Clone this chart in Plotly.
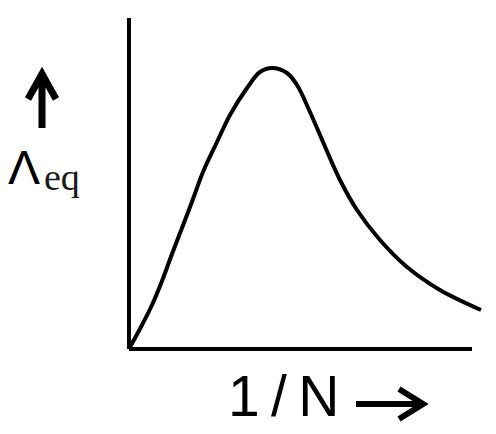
import plotly.graph_objects as go

# Curve (x = 1/N, y = equivalent conductance), arbitrary units
inv_n = [0, 13, 23, 33, 43, 53, 64, 74, 88, 101, 118, 131, 143, 158, 168, 181, 194, 211, 228, 251, 278, 311, 352]
lambda_eq = [0, 24, 44, 68, 95, 121, 150, 177, 207, 234, 261, 277, 281, 276, 264, 237, 207, 169, 139, 109, 82, 59, 39]

# drawn axis lengths (same units)
x_axis_end = 343
y_axis_end = 331

# the page body has an 8px margin, so the figure is 8px smaller than the window
PAGE_OFF = 8
PAD = 4  # a little room below / left of zero so the axis lines are not clipped
W, H = 488, 426
L, R, T, B = 121 - PAD, 6, 10, 85 - PAD
PW, PH = W - L - R, H - T - B


def px(x):
    # page pixel x -> paper x
    return (x - PAGE_OFF - L) / PW


def py(y):
    # page pixel y -> paper y
    return (H - B - (y - PAGE_OFF)) / PH


fig = go.Figure()

fig.add_trace(
    go.Scatter(
        x=inv_n,
        y=lambda_eq,
        mode="lines",
        line=dict(color="black", width=4, shape="spline", smoothing=1),
        hoverinfo="skip",
    )
)

# axes drawn as plain black lines
fig.add_trace(
    go.Scatter(
        x=[0, x_axis_end],
        y=[0, 0],
        mode="lines",
        line=dict(color="black", width=4),
        hoverinfo="skip",
    )
)
fig.add_trace(
    go.Scatter(
        x=[0, 0],
        y=[0, y_axis_end],
        mode="lines",
        line=dict(color="black", width=4),
        hoverinfo="skip",
    )
)

# up arrow next to the y label
fig.add_shape(
    type="path",
    xref="paper",
    yref="paper",
    path=f"M {px(42)} {py(128)} L {px(42)} {py(74)} M {px(28)} {py(99)} L {px(42)} {py(74)} L {px(56)} {py(99)}",
    line=dict(color="black", width=7),
)
# right arrow after the x label
fig.add_shape(
    type="path",
    xref="paper",
    yref="paper",
    path=f"M {px(356)} {py(404)} L {px(423)} {py(404)} M {px(399)} {py(389)} L {px(423)} {py(404)} L {px(399)} {py(419)}",
    line=dict(color="black", width=6),
)

fig.add_annotation(
    x=px(6), y=py(196), xref="paper", yref="paper",
    text="Λ", showarrow=False, xanchor="left", yanchor="bottom",
    font=dict(family="Liberation Sans", size=48, color="black"),
)
fig.add_annotation(
    x=px(42), y=py(200), xref="paper", yref="paper",
    text="eq", showarrow=False, xanchor="left", yanchor="bottom",
    font=dict(family="Liberation Serif", size=38, color="#1a1a1a"),
)
fig.add_annotation(
    x=px(226), y=py(430), xref="paper", yref="paper",
    text="1\u2009/\u2009N", showarrow=False, xanchor="left", yanchor="bottom",
    font=dict(family="Liberation Sans", size=57, color="black"),
)

fig.update_layout(
    width=W,
    height=H,
    margin=dict(l=L, r=R, t=T, b=B),
    paper_bgcolor="white",
    plot_bgcolor="white",
    showlegend=False,
    xaxis=dict(range=[-PAD, PW - PAD], visible=False, fixedrange=True),
    yaxis=dict(range=[-PAD, PH - PAD], visible=False, fixedrange=True),
)

fig.write_html("out.html", config={"displayModeBar": False})
